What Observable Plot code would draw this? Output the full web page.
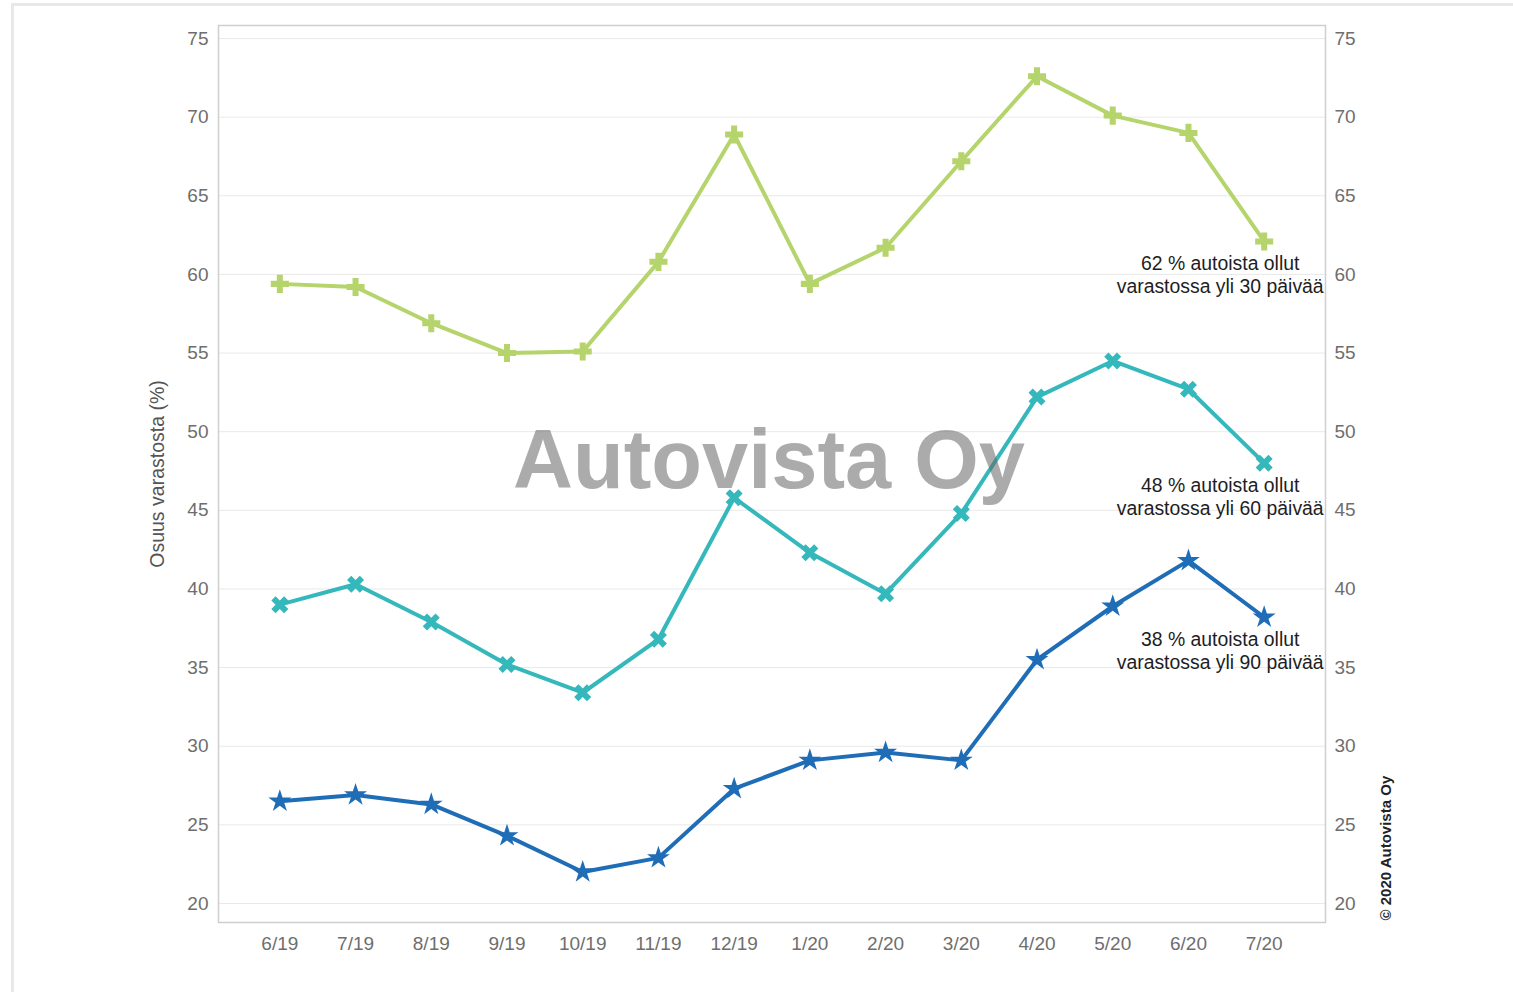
<!DOCTYPE html>
<html>
<head>
<meta charset="utf-8">
<script src="https://cdn.jsdelivr.net/npm/d3@7"></script>
<script src="https://cdn.jsdelivr.net/npm/@observablehq/plot@0.6"></script>
<style>
  html, body { margin: 0; padding: 0; background: #fff; }
  #wrap { position: relative; width: 1513px; height: 992px; overflow: hidden; }
  #border { position: absolute; left: 11px; top: 3px; right: 0; bottom: 0; border-top: 3px solid #e8e8e8; border-left: 3px solid #e8e8e8; }
  #chart { position: absolute; left: 0; top: 0; }
</style>
</head>
<body>
<div id="wrap"><div id="border"></div><div id="chart"></div></div>
<script>
const months = ["6/19","7/19","8/19","9/19","10/19","11/19","12/19","1/20","2/20","3/20","4/20","5/20","6/20","7/20"];
const over30 = [59.4, 59.2, 56.9, 55.0, 55.1, 60.8, 68.9, 59.4, 61.7, 67.2, 72.6, 70.1, 69.0, 62.1];
const over60 = [39.0, 40.3, 37.9, 35.2, 33.4, 36.8, 45.8, 42.3, 39.7, 44.8, 52.2, 54.5, 52.7, 48.0];
const over90 = [26.5, 26.9, 26.3, 24.3, 22.0, 22.9, 27.3, 29.1, 29.6, 29.1, 35.5, 38.9, 41.8, 38.2];
const seriesNames = ["yli 30 päivää", "yli 60 päivää", "yli 90 päivää"];
const seriesColors = ["#b5d46b", "#34b8bb", "#1f6db6"];
const annotations = [
  "62 % autoista ollut\nvarastossa yli 30 päivää",
  "48 % autoista ollut\nvarastossa yli 60 päivää",
  "38 % autoista ollut\nvarastossa yli 90 päivää"
];
const yTicks = [20, 25, 30, 35, 40, 45, 50, 55, 60, 65, 70, 75];
const yLabel = "Osuus varastosta (%)";
const watermark = "Autovista Oy";
const copyright = "© 2020 Autovista Oy";

const allValues = [over30, over60, over90];
const rows = [];
allValues.forEach((vals, si) => vals.forEach((v, i) => rows.push({series: seriesNames[si], month: months[i], value: v})));
const lastRows = allValues.map((vals, si) => ({series: seriesNames[si], month: months[months.length - 1], value: vals[vals.length - 1], label: annotations[si]}));

const crossPts = r => [[-3*r,-r],[-r,-r],[-r,-3*r],[r,-3*r],[r,-r],[3*r,-r],[3*r,r],[r,r],[r,3*r],[-r,3*r],[-r,r],[-3*r,r]];
const thickCross = {
  draw(ctx, size) {
    const r = Math.sqrt(size / 5) / 2;
    const p = crossPts(r);
    ctx.moveTo(p[0][0], p[0][1]);
    for (let i = 1; i < p.length; i++) ctx.lineTo(p[i][0], p[i][1]);
    ctx.closePath();
  }
};
const thickTimes = {
  draw(ctx, size) {
    const r = Math.sqrt(size / 5) / 2;
    const c = Math.SQRT1_2;
    const p = crossPts(r).map(([x, y]) => [c * (x - y), c * (x + y)]);
    ctx.moveTo(p[0][0], p[0][1]);
    for (let i = 1; i < p.length; i++) ctx.lineTo(p[i][0], p[i][1]);
    ctx.closePath();
  }
};
const symbols = [thickCross, thickTimes, d3.symbolStar];
const radii = [7.6, 7.6, 7.2];

const font = "'Liberation Sans', Arial, sans-serif";
const tickColor = "#6e6e6e";

const marks = [
  Plot.gridY(yTicks, {stroke: "#e9e9e9", strokeOpacity: 1, strokeWidth: 1}),
  Plot.frame({stroke: "#cfcfcf", strokeWidth: 1.5}),
  Plot.axisY(yTicks, {anchor: "left", tickSize: 0, tickPadding: 10, fill: tickColor, fontSize: 19, label: null}),
  Plot.axisY(yTicks, {anchor: "right", tickSize: 0, tickPadding: 9, fill: tickColor, fontSize: 19, label: null}),
  Plot.axisX({anchor: "bottom", tickSize: 0, tickPadding: 14, fill: tickColor, fontSize: 19, label: null}),
];
seriesNames.forEach((name, si) => {
  const d = rows.filter(r => r.series === name);
  marks.push(Plot.line(d, {x: "month", y: "value", stroke: seriesColors[si], strokeWidth: 4}));
  marks.push(Plot.dot(d, {x: "month", y: "value", symbol: () => symbols[si], fill: seriesColors[si], stroke: "none", r: radii[si]}));
});
marks.push(Plot.text(lastRows, {x: "month", y: "value", text: "label", dx: -44, dy: 12, lineAnchor: "top", textAnchor: "middle", lineHeight: 1.2, fontSize: 19.4, fill: "#1e1e1e"}));
marks.push(Plot.text([yLabel], {frameAnchor: "left", dx: -61, rotate: -90, textAnchor: "middle", lineAnchor: "middle", fontSize: 19.5, fill: "#555"}));
marks.push(Plot.text([copyright], {frameAnchor: "bottom-right", dx: 61, dy: -2, rotate: -90, textAnchor: "start", lineAnchor: "middle", fontSize: 15, fontWeight: "bold", fill: "#222"}));
marks.push(Plot.text([watermark], {frameAnchor: "middle", dx: -3, dy: -13, lineAnchor: "middle", textAnchor: "middle", fontSize: 83, fontWeight: "bold", fill: "#666", fillOpacity: 0.55}));

const chart = Plot.plot({
  width: 1513,
  height: 992,
  marginTop: 25,
  marginBottom: 70,
  marginLeft: 218,
  marginRight: 188,
  style: {fontFamily: font, background: "transparent", overflow: "visible"},
  x: {type: "point", domain: months, padding: 0.81, round: false},
  y: {domain: [18.79, 75.83]},
  symbol: {type: "identity"},
  marks
});
document.getElementById("chart").appendChild(chart);
</script>
</body>
</html>
